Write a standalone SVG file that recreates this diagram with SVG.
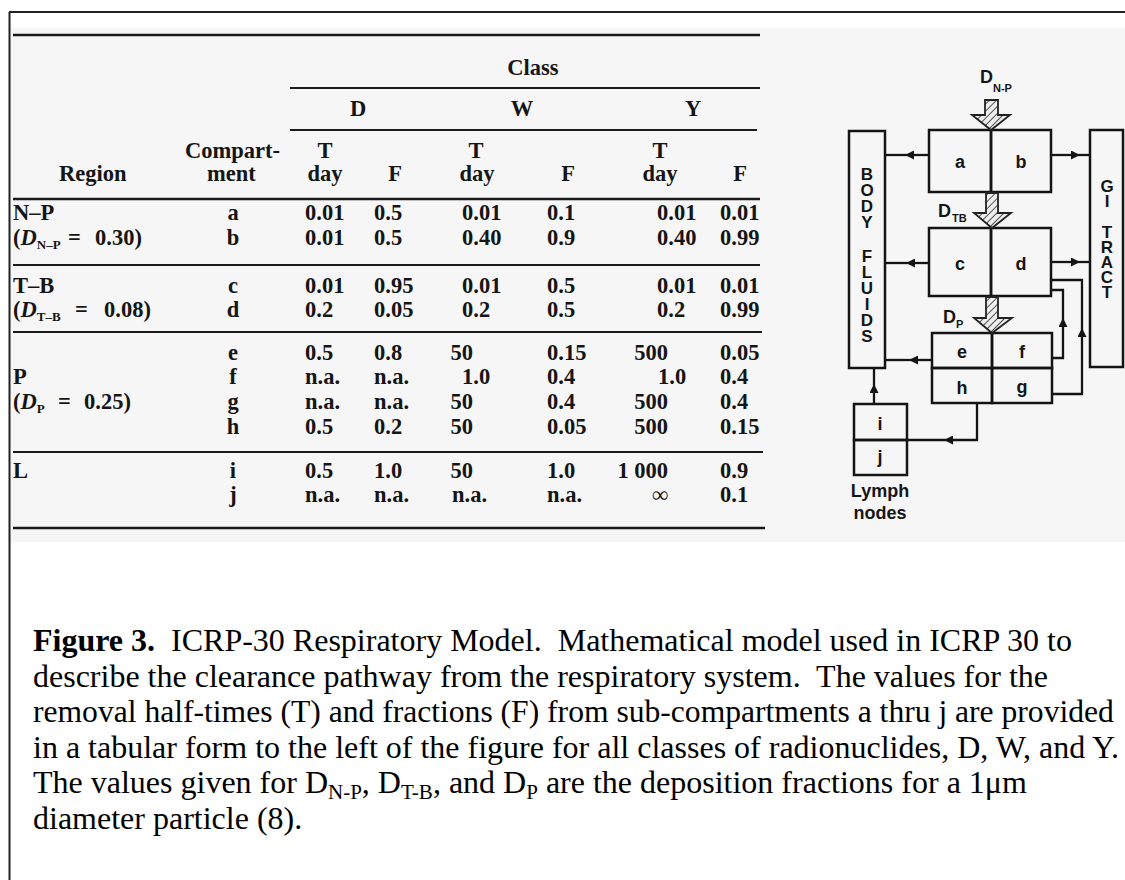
<svg xmlns="http://www.w3.org/2000/svg" width="1125" height="880" viewBox="0 0 1125 880">
<style>
.t{font-family:"Liberation Serif","Times New Roman",serif;font-weight:bold;font-size:22.5px;fill:#151515}
.c{text-anchor:middle}
.e{text-anchor:end}
.sub{font-size:13px}
.rule{stroke:#1a1a1a;stroke-width:1.8;fill:none}
.thick{stroke-width:2.6}
.box{fill:none;stroke:#141414;stroke-width:2.5}
.lbl{font-family:"Liberation Sans",Arial,sans-serif;font-weight:bold;font-size:18px;fill:#151515;text-anchor:middle}
.vl{font-family:"Liberation Sans",Arial,sans-serif;font-weight:bold;font-size:17px;fill:#151515;writing-mode:vertical-rl;text-orientation:upright}
.dl{font-family:"Liberation Sans",Arial,sans-serif;font-weight:bold;font-size:18px;fill:#151515}
.ds{font-family:"Liberation Sans",Arial,sans-serif;font-weight:bold;font-size:11px;fill:#151515}
.conn{fill:none;stroke:#141414;stroke-width:2.3}
.cap{font-family:"Liberation Serif","Times New Roman",serif;font-size:32px;fill:#000}
.hatch{fill:url(#hatch);stroke:#222;stroke-width:1.8}
</style>
<defs>
<pattern id="hatch" width="5" height="5" patternUnits="userSpaceOnUse" patternTransform="rotate(45)">
<rect width="5" height="5" fill="#eeeeee"/>
<line x1="0" y1="0" x2="0" y2="5" stroke="#555" stroke-width="2"/>
</pattern>
<marker id="ah" viewBox="0 0 10 10" refX="10" refY="5" markerWidth="10" markerHeight="9" markerUnits="userSpaceOnUse" orient="auto">
<path d="M0,0 L10,5 L0,10 Z" fill="#141414"/>
</marker>
</defs>
<rect x="0" y="0" width="1125" height="880" fill="#ffffff"/>
<rect x="10" y="28" width="1115" height="514" fill="#f6f6f6"/>
<g id="frame">
<line x1="9" y1="12" x2="1125" y2="12" stroke="#222" stroke-width="2"/>
<line x1="9.5" y1="12" x2="9.5" y2="880" stroke="#222" stroke-width="2"/>
</g>
<g id="table">
<line class="rule thick" x1="13" y1="35" x2="760" y2="35"/>
<line class="rule" x1="290" y1="88" x2="760" y2="88"/>
<line class="rule" x1="290" y1="130" x2="757" y2="130"/>
<line class="rule thick" x1="13" y1="199" x2="760" y2="199"/>
<line class="rule" x1="13" y1="265" x2="760" y2="265"/>
<line class="rule" x1="13" y1="332" x2="762" y2="332"/>
<line class="rule" x1="13" y1="452" x2="763" y2="452"/>
<line class="rule thick" x1="13" y1="528" x2="765" y2="528"/>
<text class="t c" x="533" y="75">Class</text>
<text class="t c" x="358" y="116">D</text>
<text class="t c" x="522" y="116">W</text>
<text class="t c" x="693" y="116">Y</text>
<text class="t" x="185" y="158">Compart-</text>
<text class="t" x="207" y="181">ment</text>
<text class="t" x="59" y="181">Region</text>
<text class="t c" x="325" y="158">T</text>
<text class="t c" x="325" y="181">day</text>
<text class="t c" x="395" y="181">F</text>
<text class="t c" x="476" y="158">T</text>
<text class="t c" x="477" y="181">day</text>
<text class="t c" x="568" y="181">F</text>
<text class="t c" x="660" y="158">T</text>
<text class="t c" x="660" y="181">day</text>
<text class="t c" x="740" y="181">F</text>
<text class="t" x="13" y="220">N–P</text>
<text class="t" x="13" y="245">(<tspan font-style="italic">D</tspan><tspan class="sub" dy="4">N–P</tspan><tspan dy="-4" x="68">=</tspan><tspan x="95">0.30)</tspan></text>
<text class="t" x="13" y="293">T–B</text>
<text class="t" x="13" y="317">(<tspan font-style="italic">D</tspan><tspan class="sub" dy="4">T–B</tspan><tspan dy="-4" x="75">=</tspan><tspan x="104">0.08)</tspan></text>
<text class="t" x="13" y="384">P</text>
<text class="t" x="13" y="409">(<tspan font-style="italic">D</tspan><tspan class="sub" dy="4">P</tspan><tspan dy="-4" x="58">=</tspan><tspan x="84">0.25)</tspan></text>
<text class="t" x="13" y="478">L</text>
<g class="t c">
<text x="233" y="220">a</text><text x="233" y="245">b</text><text x="233" y="293">c</text><text x="233" y="317">d</text>
<text x="233" y="360">e</text><text x="233" y="384">f</text><text x="233" y="409">g</text><text x="233" y="434">h</text>
<text x="233" y="478">i</text><text x="233" y="502">j</text>
</g>
<g class="t">
<text x="305" y="220">0.01</text><text x="305" y="245">0.01</text><text x="305" y="293">0.01</text><text x="305" y="317">0.2</text>
<text x="305" y="360">0.5</text><text x="305" y="384">n.a.</text><text x="305" y="409">n.a.</text><text x="305" y="434">0.5</text>
<text x="305" y="478">0.5</text><text x="305" y="502">n.a.</text>
<text x="374" y="220">0.5</text><text x="374" y="245">0.5</text><text x="374" y="293">0.95</text><text x="374" y="317">0.05</text>
<text x="374" y="360">0.8</text><text x="374" y="384">n.a.</text><text x="374" y="409">n.a.</text><text x="374" y="434">0.2</text>
<text x="374" y="478">1.0</text><text x="374" y="502">n.a.</text>
<text x="462" y="220">0.01</text><text x="462" y="245">0.40</text><text x="462" y="293">0.01</text><text x="462" y="317">0.2</text>
<text x="462" y="384">1.0</text><text x="452" y="502">n.a.</text>
<text x="547" y="220">0.1</text><text x="547" y="245">0.9</text><text x="547" y="293">0.5</text><text x="547" y="317">0.5</text>
<text x="547" y="360">0.15</text><text x="547" y="384">0.4</text><text x="547" y="409">0.4</text><text x="547" y="434">0.05</text>
<text x="547" y="478">1.0</text><text x="547" y="502">n.a.</text>
<text x="657" y="220">0.01</text><text x="657" y="245">0.40</text><text x="657" y="293">0.01</text><text x="657" y="317">0.2</text>
<text x="658" y="384">1.0</text>
<text x="720" y="220">0.01</text><text x="720" y="245">0.99</text><text x="720" y="293">0.01</text><text x="720" y="317">0.99</text>
<text x="720" y="360">0.05</text><text x="720" y="384">0.4</text><text x="720" y="409">0.4</text><text x="720" y="434">0.15</text>
<text x="720" y="478">0.9</text><text x="720" y="502">0.1</text>
</g>
<g class="t e">
<text x="473" y="360">50</text><text x="473" y="409">50</text><text x="473" y="434">50</text><text x="473" y="478">50</text>
<text x="668" y="360">500</text><text x="668" y="409">500</text><text x="668" y="434">500</text><text x="668" y="478">1 000</text>
<text x="668" y="502">∞</text>
</g>
</g>
<g id="node-bodyfluids">
<rect class="box" x="849" y="131" width="36" height="237"/>
<text class="vl" x="867" y="165" letter-spacing="-3">BODY</text>
<text class="vl" x="867" y="247" letter-spacing="-3">FLUIDS</text>
</g>
<g id="node-gitract">
<rect class="box" x="1090" y="130" width="33" height="237"/>
<text class="vl" x="1107" y="177" letter-spacing="-4">GI</text>
<text class="vl" x="1107" y="223" letter-spacing="-4">TRACT</text>
</g>
<g id="node-a"><rect class="box" x="929" y="130" width="62" height="62"/><text class="lbl" x="960" y="168">a</text></g>
<g id="node-b"><rect class="box" x="991" y="130" width="60" height="62"/><text class="lbl" x="1021" y="168">b</text></g>
<g id="node-c"><rect class="box" x="929" y="228" width="62" height="68"/><text class="lbl" x="960" y="270">c</text></g>
<g id="node-d"><rect class="box" x="991" y="228" width="60" height="68"/><text class="lbl" x="1021" y="270">d</text></g>
<g id="node-e"><rect class="box" x="932" y="333" width="60" height="35"/><text class="lbl" x="962" y="358">e</text></g>
<g id="node-f"><rect class="box" x="992" y="333" width="60" height="35"/><text class="lbl" x="1022" y="358">f</text></g>
<g id="node-h"><rect class="box" x="932" y="368" width="60" height="35"/><text class="lbl" x="962" y="394">h</text></g>
<g id="node-g"><rect class="box" x="992" y="368" width="60" height="35"/><text class="lbl" x="1022" y="393">g</text></g>
<g id="node-i"><rect class="box" x="854" y="404" width="53" height="36"/><text class="lbl" x="880" y="430">i</text></g>
<g id="node-j"><rect class="box" x="854" y="440" width="53" height="35"/><text class="lbl" x="880" y="463">j</text></g>
<g id="label-lymph">
<text class="lbl" font-size="17" x="880" y="497">Lymph</text>
<text class="lbl" font-size="17" x="880" y="519">nodes</text>
</g>
<g id="deposition">
<path class="hatch" d="M985,100 H998 V115 H1010 L991,130 L972,115 H985 Z"/>
<path class="hatch" d="M986,193 H998 V213 H1011 L992,228 L974,213 H986 Z"/>
<path class="hatch" d="M986,297 H998 V318 H1012 L992,333 L974,318 H986 Z"/>
<text class="dl" x="980" y="83">D</text><text class="ds" x="993" y="92">N-P</text>
<text class="dl" x="938" y="217">D</text><text class="ds" x="952" y="222">TB</text>
<text class="dl" x="943" y="323">D</text><text class="ds" x="956" y="328">P</text>
</g>
<g id="connectors">
<path class="conn" d="M929,155 H905" marker-end="url(#ah)"/><path class="conn" d="M905,155 H885"/>
<path class="conn" d="M929,263 H906" marker-end="url(#ah)"/><path class="conn" d="M906,263 H885"/>
<path class="conn" d="M932,360 H909" marker-end="url(#ah)"/><path class="conn" d="M909,360 H885"/>
<path class="conn" d="M1051,155 H1080" marker-end="url(#ah)"/><path class="conn" d="M1080,155 H1090"/>
<path class="conn" d="M1051,262 H1080" marker-end="url(#ah)"/><path class="conn" d="M1080,262 H1090"/>
<path class="conn" d="M1052,358 H1063 V318" marker-end="url(#ah)"/><path class="conn" d="M1063,318 V290 H1051"/>
<path class="conn" d="M1052,394 H1082 V328" marker-end="url(#ah)"/><path class="conn" d="M1082,328 V280 H1051"/>
<path class="conn" d="M977,403 V440 H944" marker-end="url(#ah)"/><path class="conn" d="M944,440 H907"/>
<path class="conn" d="M874,404 V384" marker-end="url(#ah)"/><path class="conn" d="M874,384 V368"/>
</g>
<g id="caption" class="cap">
<text x="33" y="651" xml:space="preserve"><tspan font-weight="bold">Figure 3.</tspan>  ICRP-30 Respiratory Model.  Mathematical model used in ICRP 30 to</text>
<text x="33" y="686.5" xml:space="preserve">describe the clearance pathway from the respiratory system.  The values for the</text>
<text x="33" y="722" font-size="31.6">removal half-times (T) and fractions (F) from sub-compartments a thru j are provided</text>
<text x="33" y="757.5">in a tabular form to the left of the figure for all classes of radionuclides, D, W, and Y.</text>
<text x="33" y="793">The values given for D<tspan font-size="21" dy="6">N-P</tspan><tspan dy="-6">, D</tspan><tspan font-size="21" dy="6">T-B</tspan><tspan dy="-6">, and D</tspan><tspan font-size="21" dy="6">P</tspan><tspan dy="-6"> are the deposition fractions for a 1μm</tspan></text>
<text x="33" y="828.5">diameter particle (8).</text>
</g>
</svg>
